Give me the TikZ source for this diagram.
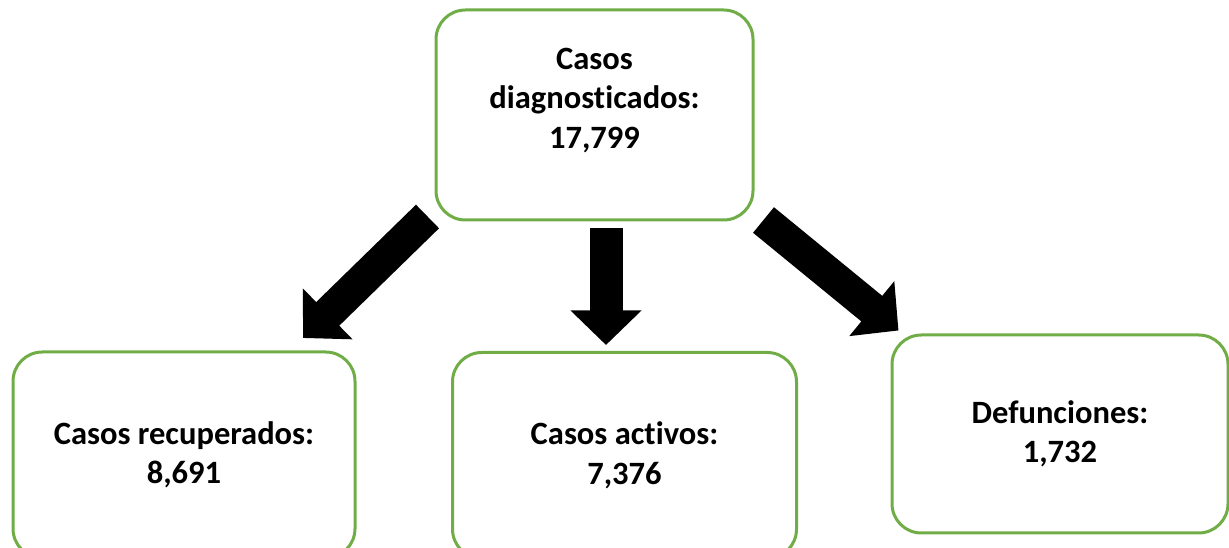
\documentclass[tikz,border=0pt]{standalone}
\usepackage{fontspec}
\setmainfont{Carlito}[Ligatures={NoCommon}]
\usetikzlibrary{arrows.meta}
\definecolor{boxgreen}{HTML}{70AD47}
\tikzset{
  boxtext/.style={align=center, font=\fontsize{24.4}{29.6}\selectfont\bfseries, text=black,
    inner sep=0pt},
  box/.style={boxtext, draw=boxgreen, line width=2.25pt, rounded corners=22pt, fill=white},
  blockarrow/.style={line width=24.75pt, draw=black,
    -{Triangle[length=25.9pt, width=51.75pt]}}
}
\begin{document}
\begin{tikzpicture}[x=0.75pt, y=-0.75pt]
\useasboundingbox (0,0) rectangle (1229,548);
\clip (0,0) rectangle (1229,548);
\node[box, minimum width=237.75pt, minimum height=157.5pt,
  label={[boxtext, yshift=11pt]center:{Casos\\diagnosticados:\\17,799}}] (diag) at (594.5,115) {};
\node[box, minimum width=256.5pt, minimum height=154.5pt] (recup) at (184,455) {Casos recuperados:\\8,691};
\node[box, minimum width=258pt, minimum height=154.5pt] (activ) at (624.5,455.5) {Casos activos:\\7,376};
\node[box, minimum width=252pt, minimum height=148.5pt] (defun) at (1060,434) {Defunciones:\\1,732};
\coordinate (a1s) at (427.5,216.5);
\coordinate (a1e) at (303,338);
\coordinate (a2s) at (606,228);
\coordinate (a2e) at (606,345);
\coordinate (a3s) at (763.5,220);
\coordinate (a3e) at (898.5,330.5);
\draw[blockarrow] (a1s) -- (a1e);
\draw[blockarrow] (a2s) -- (a2e);
\draw[blockarrow] (a3s) -- (a3e);
\end{tikzpicture}
\end{document}
